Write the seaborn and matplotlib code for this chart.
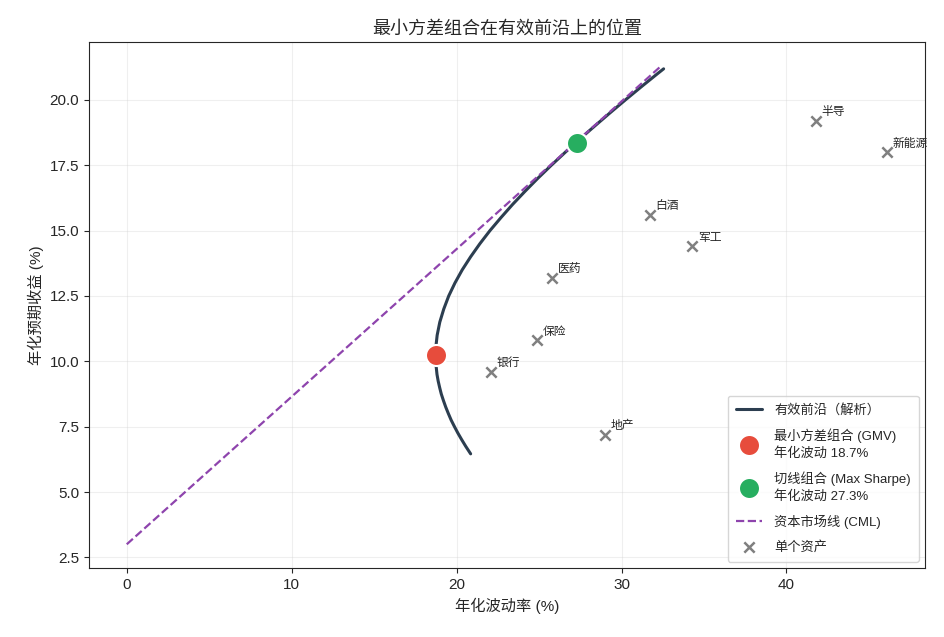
import numpy as np
import pandas as pd
import matplotlib
matplotlib.use("Agg")
import matplotlib.pyplot as plt
import seaborn as sns

# values (%)
asset_names = ["银行", "保险", "医药", "地产", "白酒", "军工", "半导", "新能源"]
asset_vol = [22.1, 24.9, 25.8, 29.0, 31.7, 34.3, 41.8, 46.1]
asset_ret = [9.6, 10.8, 13.2, 7.2, 15.6, 14.4, 19.2, 18.0]

frontier_ret = [6.46, 6.75, 7.0, 7.25, 7.5, 7.75, 8.0, 8.25, 8.5, 8.75, 9.0, 9.25,
                9.5, 9.8, 10.0, 10.23, 10.45, 10.6, 11.0, 11.5, 12.0, 12.5, 13.0,
                13.5, 14.0, 14.5, 15.0, 15.5, 16.0, 16.5, 17.0, 17.5, 18.0, 18.5,
                19.0, 19.5, 20.0, 20.5, 21.0, 21.19]
frontier_vol = [20.85, 20.55, 20.31, 20.08, 19.87, 19.67, 19.50, 19.34, 19.20, 19.07,
                18.97, 18.88, 18.81, 18.76, 18.74, 18.73, 18.74, 18.75, 18.82, 18.98,
                19.22, 19.52, 19.90, 20.34, 20.85, 21.41, 22.02, 22.69, 23.39, 24.14,
                24.92, 25.74, 26.59, 27.46, 28.37, 29.29, 30.23, 31.19, 32.17, 32.55]

gmv_vol, gmv_ret = 18.73, 10.23
tan_vol, tan_ret = 27.27, 18.35

cml_vol = [0.0, 32.4]
cml_ret = [3.0, 21.3]

sns.set_style("ticks")
plt.rcParams['font.family'] = ['Liberation Sans', 'Noto Sans CJK SC', 'DejaVu Sans']
plt.rcParams['axes.unicode_minus'] = False

fig, ax = plt.subplots(figsize=(9.44, 6.37), dpi=100)

frontier = pd.DataFrame({"vol": frontier_vol, "ret": frontier_ret})
sns.lineplot(data=frontier, x="vol", y="ret", sort=False, estimator=None,
             color="#2c3e50", linewidth=2.2, label="有效前沿（解析）", ax=ax)

sns.scatterplot(x=[gmv_vol], y=[gmv_ret], s=230, color="#e74c3c", edgecolor="white",
                linewidth=1.5, zorder=5, ax=ax,
                label=f"最小方差组合 (GMV)\n年化波动 {gmv_vol:.1f}%")
sns.scatterplot(x=[tan_vol], y=[tan_ret], s=230, color="#27ae60", edgecolor="white",
                linewidth=1.5, zorder=5, ax=ax,
                label=f"切线组合 (Max Sharpe)\n年化波动 {tan_vol:.1f}%")

ax.plot(cml_vol, cml_ret, linestyle="--", color="#8e44ad", linewidth=1.6,
        label="资本市场线 (CML)")

ax.scatter(asset_vol, asset_ret, marker="x", s=55, color="gray", linewidths=1.8,
           zorder=4, label="单个资产")
for name, v, r in zip(asset_names, asset_vol, asset_ret):
    ax.annotate(name, (v, r), xytext=(4, 4), textcoords="offset points", fontsize=8.5)

ax.grid(True, alpha=0.3)
ax.set_xlabel("年化波动率 (%)", fontsize=11)
ax.set_ylabel("年化预期收益 (%)", fontsize=11)
ax.set_title("最小方差组合在有效前沿上的位置", fontsize=13)
ax.tick_params(labelsize=11)
leg = ax.legend(loc="lower right", fontsize=9.5, labelspacing=0.9, handletextpad=0.9,
                borderpad=0.6)
for t in leg.get_texts():
    t.set_linespacing(1.4)

fig.subplots_adjust(left=0.094, right=0.98, top=0.934, bottom=0.108)
fig.savefig("out.png", dpi=100)
